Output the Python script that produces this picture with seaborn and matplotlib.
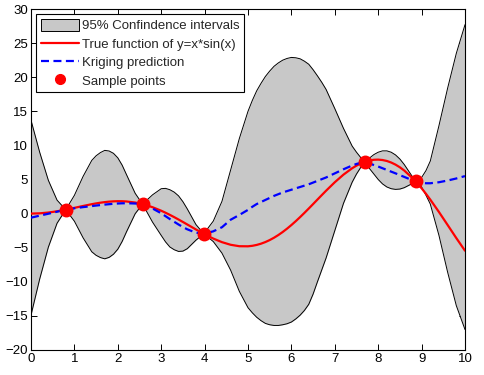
import matplotlib
matplotlib.use("Agg")
import matplotlib.pyplot as plt
import numpy as np
import pandas as pd
import seaborn as sns
from matplotlib.lines import Line2D
from matplotlib.patches import Patch

x_grid = [0, 0.2, 0.4, 0.6, 0.8, 1.0, 1.2, 1.4, 1.5, 1.6, 1.7, 1.8, 1.9, 2.0,
          2.1, 2.2, 2.4, 2.57, 2.8, 3.0, 3.1, 3.2, 3.3, 3.4, 3.5, 3.6, 3.8,
          3.98, 4.2, 4.4, 4.6, 4.8, 5.0, 5.1, 5.2, 5.3, 5.4, 5.5, 5.6, 5.7,
          5.8, 5.9, 6.0, 6.1, 6.2, 6.3, 6.4, 6.5, 6.6, 6.7, 6.8, 7.0, 7.2,
          7.4, 7.5, 7.6, 7.69, 7.8, 7.9, 8.0, 8.1, 8.2, 8.3, 8.4, 8.5, 8.6,
          8.8, 8.86, 9.0, 9.1, 9.2, 9.4, 9.6, 9.8, 10.0]

true_y = [0.0, 0.04, 0.156, 0.339, 0.574, 0.841, 1.118, 1.38, 1.496, 1.599,
          1.686, 1.753, 1.798, 1.819, 1.813, 1.779, 1.621, 1.39, 0.938, 0.423,
          0.129, -0.187, -0.52, -0.869, -1.228, -1.593, -2.325, -2.959, -3.661,
          -4.187, -4.571, -4.782, -4.795, -4.722, -4.594, -4.411, -4.173,
          -3.88, -3.535, -3.139, -2.695, -2.206, -1.676, -1.111, -0.515, 0.106,
          0.746, 1.398, 2.056, 2.712, 3.36, 4.599, 5.715, 6.651, 7.036, 7.356,
          7.587, 7.788, 7.892, 7.915, 7.855, 7.714, 7.487, 7.179, 6.787, 6.316,
          5.147, 4.74, 3.709, 2.907, 2.051, 0.233, -1.673, -3.592, -5.44]

kriging_y = [-0.6, -0.3, -0.02, 0.28, 0.57, 0.78, 0.95, 1.1, 1.18, 1.25, 1.32,
             1.38, 1.44, 1.48, 1.51, 1.52, 1.48, 1.39, 0.75, 0.05, -0.38, -0.8,
             -1.2, -1.6, -1.97, -2.3, -2.8, -2.96, -2.6, -2.0, -0.9, -0.2,
             0.55, 1.0, 1.4, 1.7, 2.0, 2.3, 2.6, 2.85, 3.1, 3.3, 3.5, 3.7, 3.9,
             4.1, 4.3, 4.55, 4.8, 5.05, 5.3, 5.9, 6.5, 7.05, 7.28, 7.45, 7.59,
             7.35, 7.12, 6.9, 6.65, 6.4, 6.15, 5.9, 5.64, 5.38, 4.86, 4.74, 4.5,
             4.45, 4.45, 4.6, 4.85, 5.15, 5.5]

ci_upper = [13.7, 9.0, 4.88, 1.98, 0.57, 2.68, 5.45, 7.8, 8.48, 8.95, 9.27,
            9.18, 8.84, 8.18, 7.11, 5.72, 2.98, 1.39, 2.75, 3.65, 3.7, 3.5,
            3.15, 2.6, 1.75, 0.7, -1.6, -2.96, -1.1, 1.8, 6.4, 11.0, 15.0,
            16.6, 18.0, 19.1, 20.1, 20.9, 21.6, 22.1, 22.5, 22.75, 22.9, 22.85,
            22.7, 22.35, 21.9, 21.1, 20.2, 19.25, 18.2, 15.4, 12.5, 9.9, 9.0,
            8.2, 7.59, 8.15, 8.65, 9.0, 9.2, 9.2, 9.0, 8.6, 8.0, 7.2, 5.3, 4.74,
            5.3, 6.3, 7.7, 12.9, 18.4, 23.5, 27.7]

ci_lower = [-14.9, -9.6, -4.92, -1.42, 0.57, -1.12, -3.55, -5.6, -6.12, -6.45,
            -6.63, -6.42, -5.96, -5.22, -4.09, -2.68, -0.02, 1.39, -1.25, -3.2,
            -4.15, -4.9, -5.3, -5.55, -5.5, -5.15, -3.9, -2.96, -4.1, -5.8,
            -8.3, -11.4, -13.8, -14.55, -15.2, -15.7, -16.1, -16.3, -16.4,
            -16.4, -16.3, -16.15, -15.9, -15.45, -14.9, -14.2, -13.3, -11.8,
            -10.0, -8.25, -6.5, -2.5, 1.5, 4.6, 5.8, 6.8, 7.59, 6.6, 5.8, 5.0,
            4.35, 3.9, 3.65, 3.55, 3.6, 3.8, 4.45, 4.74, 3.9, 2.7, 1.4, -3.2,
            -8.6, -13.5, -17.0]

sample_x = [0.8, 2.57, 3.98, 7.69, 8.86]
sample_y = [0.574, 1.39, -2.959, 7.587, 4.74]

legend_labels = ["95% Confindence intervals", "True function of y=x*sin(x)",
                 "Kriging prediction", "Sample points"]

df = pd.DataFrame({"x": x_grid, "true": true_y, "pred": kriging_y,
                   "upper": ci_upper, "lower": ci_lower})

sns.set_theme(style="ticks")
plt.rcParams["font.family"] = ["Liberation Sans", "DejaVu Sans"]
plt.rcParams["xtick.direction"] = "in"
plt.rcParams["ytick.direction"] = "in"

fig = plt.figure(figsize=(4.84, 3.75), dpi=100)
ax = fig.add_axes([31 / 484, 25 / 375, 434 / 484, 341 / 375])

# confidence band with thin black outline
ax.fill_between(df["x"], df["lower"], df["upper"], color="#c8c8c8", lw=0, zorder=1)
sns.lineplot(data=df, x="x", y="upper", ax=ax, color="black", lw=0.7, zorder=2)
sns.lineplot(data=df, x="x", y="lower", ax=ax, color="black", lw=0.7, zorder=2)

sns.lineplot(data=df, x="x", y="true", ax=ax, color="red", lw=1.6, zorder=3)
sns.lineplot(data=df, x="x", y="pred", ax=ax, color="#0000ff", lw=1.6, zorder=4)
ax.lines[-1].set_dashes([3.6, 2.0])
sns.scatterplot(x=sample_x, y=sample_y, ax=ax, color="red", s=100,
                edgecolor="red", linewidth=0, zorder=5)

ax.set_xlim(0, 10)
ax.set_ylim(-20, 30)
ax.set_xticks(range(0, 11))
ax.set_yticks(range(-20, 31, 5))
ax.set_xlabel("")
ax.set_ylabel("")
ax.tick_params(which="both", top=True, right=True, length=4, width=0.7,
               labelsize=9.5, colors="black", pad=2)
for sp in ax.spines.values():
    sp.set_color("black")
    sp.set_linewidth(0.8)

handles = [
    Patch(facecolor="#c8c8c8", edgecolor="black", lw=0.7),
    Line2D([], [], color="red", lw=1.6),
    Line2D([], [], color="#0000ff", lw=1.6, dashes=[3.6, 2.0]),
    Line2D([], [], color="red", marker="o", ms=7, lw=0),
]
leg = ax.legend(handles, legend_labels, loc="upper left", fontsize=9.5,
                frameon=True, fancybox=False, framealpha=1, edgecolor="black",
                handlelength=2.9, handleheight=1.0, handletextpad=0.2,
                labelspacing=0.38, borderpad=0.35, borderaxespad=0.4)
leg.get_frame().set_linewidth(0.8)

fig.savefig("out.png", dpi=100)
